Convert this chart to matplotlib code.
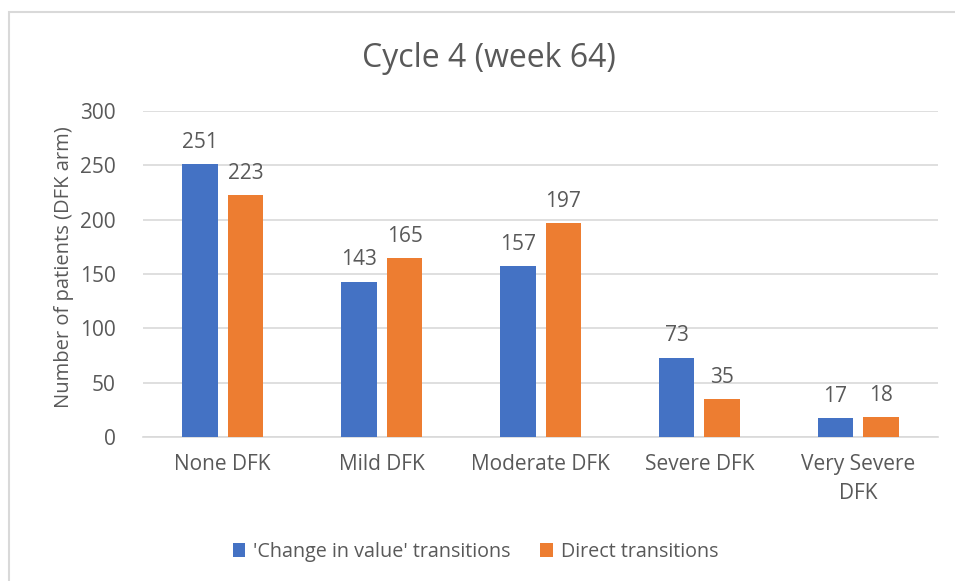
#!/usr/bin/env python
import numpy as np
from matplotlib import pyplot as plt
import matplotlib as mpl
from matplotlib.patches import Rectangle

mpl.rc('font', family=['Open Sans', 'DejaVu Sans'], size=15)
txt = '#595959'

categories = ['None DFK', 'Mild DFK', 'Moderate DFK', 'Severe DFK', 'Very Severe\nDFK']
change_vals = [251, 143, 157, 73, 17]
direct_vals = [223, 165, 197, 35, 18]
series_names = ["'Change in value' transitions", 'Direct transitions']
colors = ['#4472C4', '#ED7D31']

fig = plt.figure(figsize=(9.55, 5.81), dpi=100, facecolor='white')
ax = fig.add_axes([0.150, 0.248, 0.832, 0.561])

x = np.arange(len(categories))
w = 0.225
off = 0.144
b1 = ax.bar(x - off, change_vals, w, color=colors[0], label=series_names[0], zorder=3)
b2 = ax.bar(x + off, direct_vals, w, color=colors[1], label=series_names[1], zorder=3)
for bars in (b1, b2):
    ax.bar_label(bars, padding=8, color=txt, fontsize=15)

ax.set_xlim(-0.5, len(categories) - 0.5)
ax.set_ylim(0, 300)
ax.set_yticks(np.arange(0, 301, 50))
ax.grid(axis='y', color='#d9d9d9', lw=1.2, zorder=0)
for s in ['top', 'right', 'left']:
    ax.spines[s].set_visible(False)
ax.spines['bottom'].set_color('#d9d9d9')
ax.spines['bottom'].set_linewidth(1.2)
ax.tick_params(length=0, colors=txt, labelsize=15)
ax.tick_params(axis='y', pad=20)
ax.tick_params(axis='x', pad=12)
ax.set_xticks(x)
ax.set_xticklabels(categories, linespacing=1.5)
ax.set_ylabel('Number of patients (DFK arm)', color=txt, fontsize=14.5)
ax.yaxis.set_label_coords(-0.087, 0.52)

fig.text(0.512, 0.9, 'Cycle 4 (week 64)', ha='center', va='center', color=txt, fontsize=23)
fig.legend(loc='center', bbox_to_anchor=(0.498, 0.05), ncol=2, frameon=False,
           handlelength=0.65, handleheight=0.65, columnspacing=1.5, handletextpad=0.4,
           fontsize=14.2, labelcolor=txt)

# chart border
fig.patches.append(Rectangle((9/955, -0.1), 1.0, 1 - 12/581 + 0.1, transform=fig.transFigure,
                             fill=False, edgecolor='#d9d9d9', lw=1.5))

plt.savefig('out.png', dpi=100)
